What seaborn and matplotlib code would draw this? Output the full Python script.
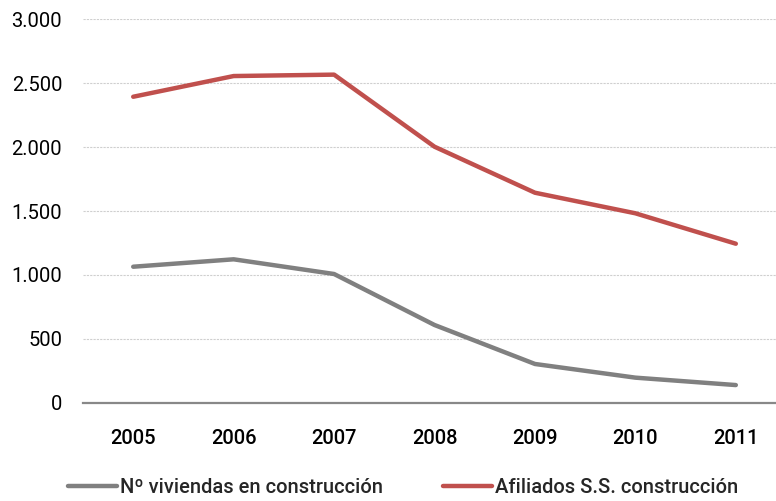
import matplotlib
matplotlib.use("Agg")
import matplotlib.pyplot as plt
import matplotlib.ticker as mticker
import seaborn as sns
import pandas as pd

years = ["2005", "2006", "2007", "2008", "2009", "2010", "2011"]
viviendas = [1064, 1122, 1007, 608, 303, 196, 138]
afiliados = [2394, 2556, 2567, 2003, 1643, 1482, 1244]
series_names = ["Nº viviendas en construcción", "Afiliados S.S. construcción"]
yticks = [0, 500, 1000, 1500, 2000, 2500, 3000]

sns.set_theme(style="white")
plt.rcParams["font.family"] = ["Roboto", "DejaVu Sans"]

df = pd.DataFrame({
    "year": years * 2,
    "value": viviendas + afiliados,
    "serie": [series_names[0]] * len(years) + [series_names[1]] * len(years),
})

fig = plt.figure(figsize=(7.76, 5.01), dpi=100)
ax = fig.add_axes([83 / 776, 98.3 / 501, 693 / 776, 383.4 / 501])
sns.lineplot(data=df, x="year", y="value", hue="serie", sort=False,
             palette=["#808080", "#C0504D"], linewidth=3.2, ax=ax, legend=True)

ax.set_xlim(-0.5, 6.4)
ax.set_ylim(0, 3000)
ax.set_yticks(yticks)
ax.yaxis.set_major_formatter(mticker.FuncFormatter(lambda v, p: f"{int(v):,}".replace(",", ".")))
ax.grid(axis="y", color="#CFCFCF", linestyle=(0, (2, 1)), linewidth=0.8)
ax.set_axisbelow(True)
for s in ["top", "right", "left"]:
    ax.spines[s].set_visible(False)
ax.spines["bottom"].set_color("#888888")
ax.spines["bottom"].set_linewidth(1.6)
ax.set_xlabel("")
ax.set_ylabel("")
ax.tick_params(axis="y", labelsize=14.5, pad=15, length=0, colors="black")
ax.tick_params(axis="x", labelsize=14.5, pad=19, length=0, colors="black")
for lab in ax.get_xticklabels():
    lab.set_fontweight("medium")

handles, labels = ax.get_legend_handles_labels()
ax.legend(handles, labels, loc="upper center", bbox_to_anchor=(0.462, -0.15),
          ncol=2, frameon=False, handlelength=2.4, handletextpad=0.15,
          columnspacing=3.0, prop={"size": 14.5, "weight": "medium"})

fig.savefig("out.png", dpi=100)
